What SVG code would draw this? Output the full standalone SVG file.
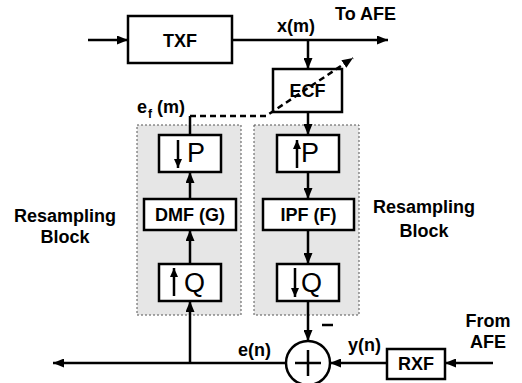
<svg xmlns="http://www.w3.org/2000/svg" width="522" height="383" viewBox="0 0 522 383">
<defs>
<marker id="ah" markerUnits="userSpaceOnUse" markerWidth="11" markerHeight="9" refX="11" refY="4.5" orient="auto">
<path d="M0,0 L11,4.5 L0,9 z" fill="#000"/>
</marker>
<marker id="ahs" markerUnits="userSpaceOnUse" markerWidth="9" markerHeight="8" refX="9" refY="4" orient="auto">
<path d="M0,0 L9,4 L0,8 z" fill="#000"/>
</marker>
</defs>
<style>
text{font-family:"Liberation Sans",Arial,sans-serif;fill:#000}
.b{font-weight:bold;font-size:18px}
.sub{font-weight:bold;font-size:12px}
.big{font-size:27px}
.box{fill:#fff;stroke:#000;stroke-width:2.5}
.grp{fill:#e6e6e6;stroke:#555;stroke-width:1;stroke-dasharray:2,2}
.ln{fill:none;stroke:#000;stroke-width:2.5}
.dash{fill:none;stroke:#000;stroke-width:2.5;stroke-dasharray:6,4}
</style>
<rect width="522" height="383" fill="#fff"/>
<g id="block-left"><rect class="grp" x="137" y="125" width="104" height="190"/></g>
<g id="block-right"><rect class="grp" x="254" y="125" width="105" height="190"/></g>
<g id="txf"><rect class="box" x="128" y="16" width="104" height="47"/><text class="b" x="180" y="47" text-anchor="middle">TXF</text></g>
<g id="ecf"><rect class="box" x="273" y="69" width="69" height="43"/><text class="b" x="307.5" y="97" text-anchor="middle">ECF</text></g>
<g id="down-p"><rect class="box" x="159" y="135" width="62" height="37"/><path class="ln" d="M178,140 V168" marker-end="url(#ahs)"/><text class="big" x="187" y="162">P</text></g>
<g id="dmf"><rect class="box" x="144" y="199" width="92" height="31"/><text class="b" x="190" y="221" text-anchor="middle">DMF (G)</text></g>
<g id="up-q"><rect class="box" x="159" y="264" width="62" height="37"/><path class="ln" d="M174,296 V268" marker-end="url(#ahs)"/><text class="big" x="184" y="292">Q</text></g>
<g id="up-p"><rect class="box" x="277" y="135" width="62" height="37"/><path class="ln" d="M297,168 V140" marker-end="url(#ahs)"/><text class="big" x="301" y="162">P</text></g>
<g id="ipf"><rect class="box" x="263" y="199" width="91" height="31"/><text class="b" x="308.5" y="221" text-anchor="middle">IPF (F)</text></g>
<g id="down-q"><rect class="box" x="277" y="264" width="62" height="37"/><path class="ln" d="M295,268 V297" marker-end="url(#ahs)"/><text class="big" x="301" y="292">Q</text></g>
<g id="sum"><circle cx="308" cy="363" r="22" fill="#fff" stroke="#000" stroke-width="2.5"/><path class="ln" d="M295,363 H321 M308,350 V376"/></g>
<g id="rxf"><rect class="box" x="387" y="349" width="58" height="30"/><text class="b" x="416" y="370" text-anchor="middle">RXF</text></g>
<g id="connectors">
<path class="ln" d="M88,40 H128" marker-end="url(#ah)"/>
<path class="ln" d="M232,40 H388" marker-end="url(#ah)"/>
<path class="ln" d="M308,40 V69" marker-end="url(#ah)"/>
<path class="ln" d="M308,112 V135" marker-end="url(#ah)"/>
<path class="ln" d="M308,172 V199" marker-end="url(#ah)"/>
<path class="ln" d="M308,230 V264" marker-end="url(#ah)"/>
<path class="ln" d="M308,301 V341" marker-end="url(#ah)"/>
<path class="ln" d="M493,363 H445" marker-end="url(#ah)"/>
<path class="ln" d="M387,363 H330" marker-end="url(#ah)"/>
<path class="ln" d="M286,363 H53" marker-end="url(#ah)"/>
<path class="ln" d="M190,363 V301" marker-end="url(#ah)"/>
<path class="ln" d="M190,264 V230" marker-end="url(#ah)"/>
<path class="ln" d="M190,199 V172" marker-end="url(#ah)"/>
<path class="ln" d="M190,135 V116"/>
<path class="dash" d="M190,116 H266 L353,58" marker-end="url(#ah)"/>
<path class="ln" d="M322,325 H333" stroke-width="2"/>
</g>
<g id="labels">
<text class="b" x="277" y="32">x(m)</text>
<text class="b" x="335" y="20">To AFE</text>
<text class="b" x="137" y="113">e</text><text class="sub" x="148" y="118">f</text><text class="b" x="157" y="113">(m)</text>
<text class="b" x="65" y="222" text-anchor="middle">Resampling</text>
<text class="b" x="65" y="243" text-anchor="middle">Block</text>
<text class="b" x="424" y="213" text-anchor="middle">Resampling</text>
<text class="b" x="424" y="237" text-anchor="middle">Block</text>
<text class="b" x="238" y="356">e(n)</text>
<text class="b" x="348" y="351">y(n)</text>
<text class="b" x="488" y="327" text-anchor="middle">From</text>
<text class="b" x="488" y="348" text-anchor="middle">AFE</text>
</g>
</svg>
